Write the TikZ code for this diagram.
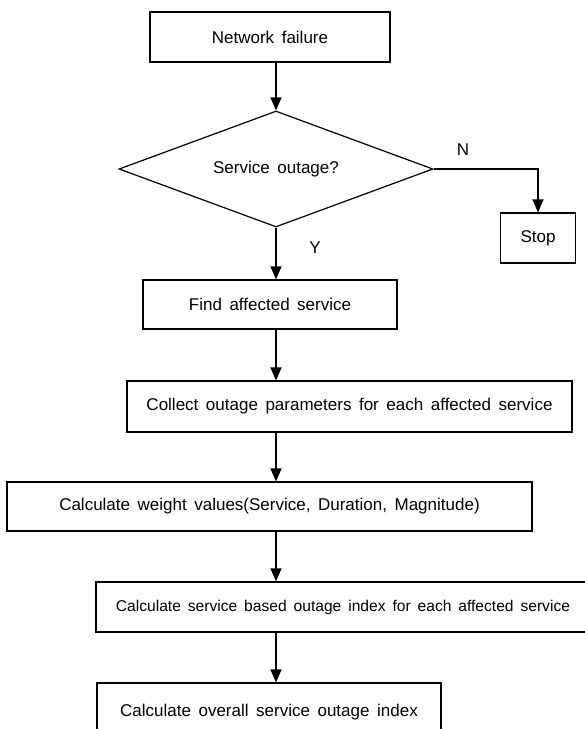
\documentclass[tikz,border=0pt]{standalone}
\usepackage{fontspec}
\setmainfont{Liberation Sans}[WordSpace=1.6]
\usetikzlibrary{shapes.geometric,arrows.meta}
\begin{document}
\begin{tikzpicture}[x=1pt,y=-1pt,
  txt/.style={font=\fontsize{17}{20}\selectfont},
  box/.style={draw, line width=1.2pt, inner sep=0pt, txt},
  flow/.style={line width=1.3pt, -{Triangle[length=13pt,width=11pt]}},
  lbl/.style={txt, inner sep=0pt}]
\useasboundingbox (0,0) rectangle (585,729);
\clip (0,0) rectangle (585,729);
\node[box, minimum width=240pt, minimum height=50pt] (nf) at (270,37) {Network failure};
\node[box, diamond, aspect=2.7, minimum width=314pt, minimum height=116pt] (dia) at (276,169) {Service outage?};
\node[box, minimum width=75pt, minimum height=50pt] (stop) at (538,238) {Stop};
\node[box, minimum width=254pt, minimum height=49pt] (find) at (270,304.5) {Find affected service};
\node[box, minimum width=445pt, minimum height=51pt] (coll) at (349.5,406.5) {Collect outage parameters for each affected service};
\node[box, minimum width=525pt, minimum height=49pt] (wt) at (269.5,506.5) {Calculate weight values(Service, Duration, Magnitude)};
\node[box, minimum width=494pt, minimum height=50pt, font=\fontsize{15.6}{19}\selectfont] (sboi) at (343,607) {Calculate service based outage index for each affected service};
\node[box, minimum width=344pt, minimum height=58pt] (osoi) at (269,712) {Calculate overall service outage index};
\node[lbl] (nlab) at (463,150) {N};
\node[lbl] (ylab) at (315,248) {Y};
\draw[flow] (nf.south -| dia.north) -- (dia.north);
\draw[flow] (dia.east) -| (stop.north);
\draw[flow] (dia.south) -- (find.north -| dia.south);
\draw[flow] (find.south -| dia.south) -- (coll.north -| dia.south);
\draw[flow] (coll.south -| dia.south) -- (wt.north -| dia.south);
\draw[flow] (wt.south -| dia.south) -- (sboi.north -| dia.south);
\draw[flow] (sboi.south -| dia.south) -- (osoi.north -| dia.south);
\end{tikzpicture}
\end{document}
